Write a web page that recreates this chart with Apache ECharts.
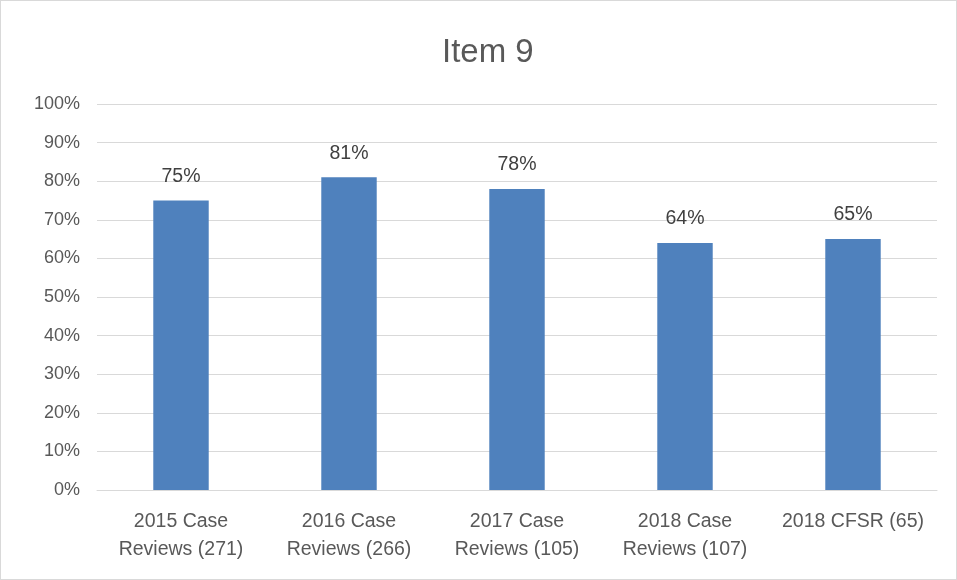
<!DOCTYPE html>
<html><head><meta charset="utf-8">
<script src="https://cdn.jsdelivr.net/npm/echarts@6/dist/echarts.min.js"></script>
<style>html,body{margin:0;padding:0;background:#fff}#c{width:957px;height:580px;box-sizing:border-box;border:1px solid #d9d9d9}</style>
</head><body><div id="c"></div>
<script>
const categories = ["2015 Case\nReviews (271)", "2016 Case\nReviews (266)", "2017 Case\nReviews (105)", "2018 Case\nReviews (107)", "2018 CFSR (65)"];
const values = [75, 81, 78, 64, 65];
const chart = echarts.init(document.getElementById('c'));
const font = "Liberation Sans";
chart.setOption({
  animation: false,
  title: { text: "Item 9", left: 436, top: 30, textStyle: { fontFamily: font, fontSize: 33, fontWeight: 'normal', color: '#595959' } },
  grid: { left: 96, right: 19, top: 103, bottom: 89, containLabel: false },
  xAxis: { type: 'category', data: categories,
    axisLine: { lineStyle: { color: '#d9d9d9' } }, axisTick: { show: false },
    axisLabel: { fontFamily: font, fontSize: 19.5, color: '#595959', lineHeight: 28, margin: 18, interval: 0 } },
  yAxis: { type: 'value', min: 0, max: 100, interval: 10,
    axisLabel: { formatter: '{value}%', fontFamily: font, fontSize: 18, color: '#595959', margin: 17 },
    splitLine: { lineStyle: { color: '#d9d9d9' } }, axisLine: { show: false }, axisTick: { show: false } },
  series: [{ type: 'bar', data: values, barWidth: '33%', itemStyle: { color: '#4F81BD' },
    label: { show: true, position: 'top', formatter: '{c}%', fontFamily: font, fontSize: 19.5, color: '#404040', distance: 14 } }]
});
</script></body></html>
